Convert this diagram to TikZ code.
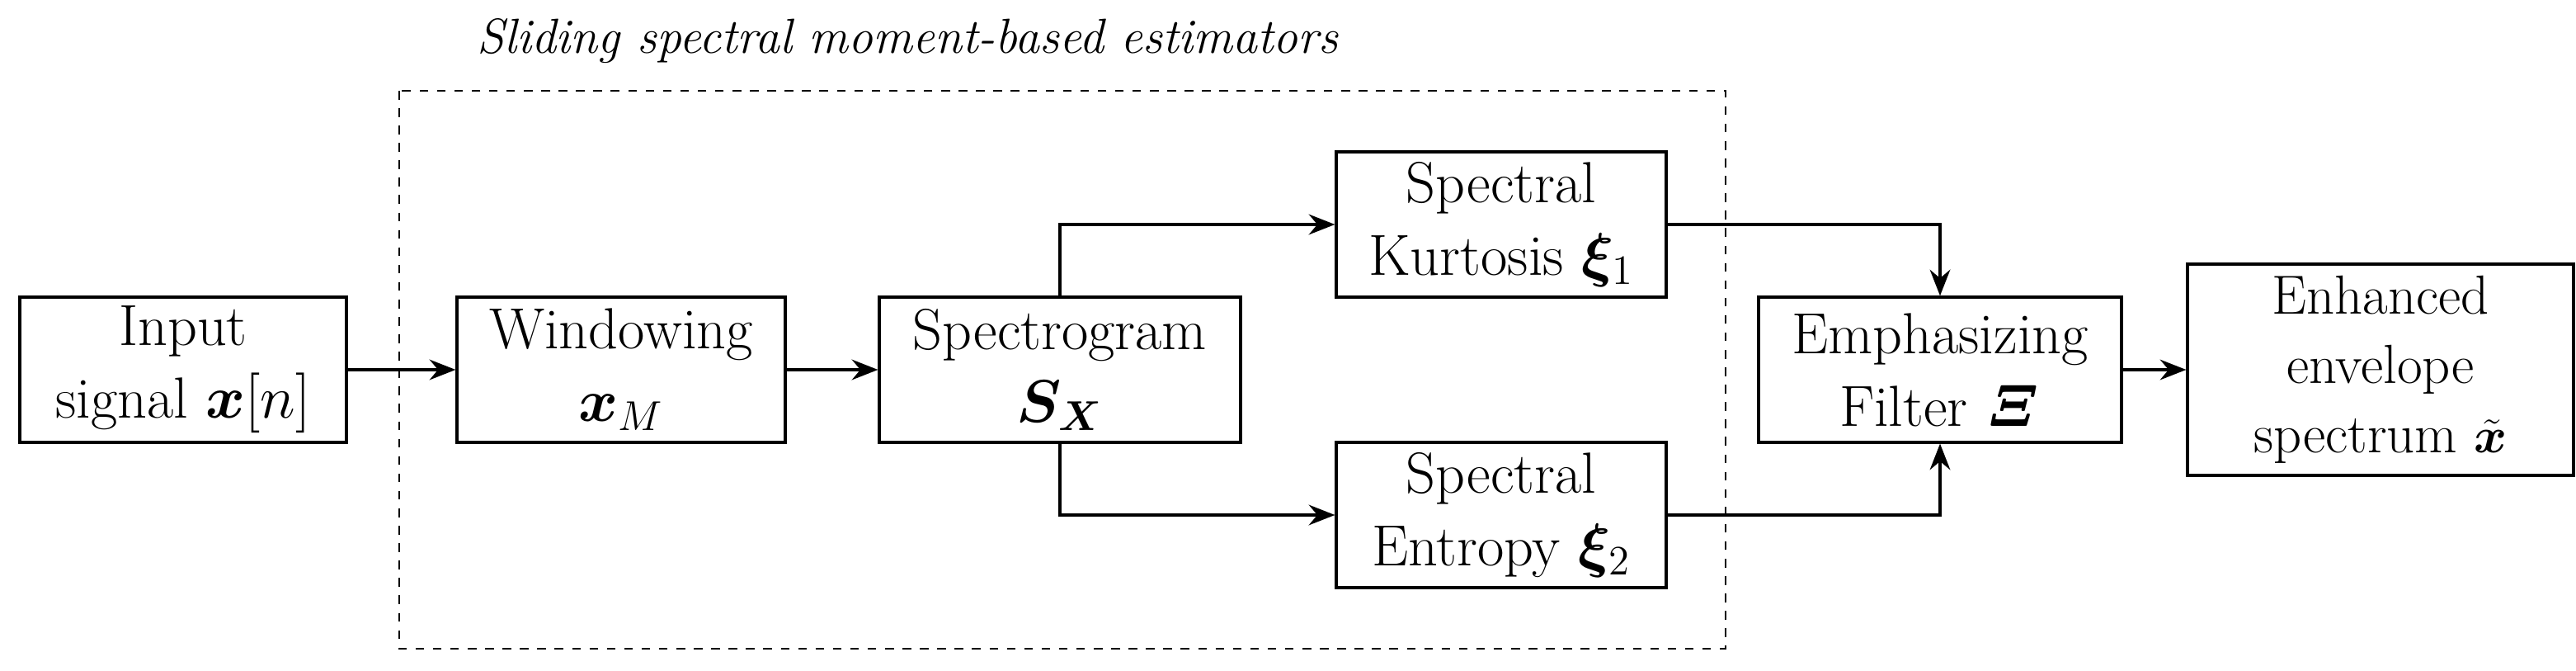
\documentclass[tikz,border=0pt]{standalone}
\usepackage{amsmath,bm}
\usetikzlibrary{arrows.meta,calc}
\begin{document}
\begin{tikzpicture}[x=0.02cm,y=-0.02cm,
  blk/.style={draw,line width=0.9pt,align=center,font=\fontsize{20}{25}\selectfont,inner sep=0pt},
  conn/.style={line width=1.1pt,-{Stealth[length=9pt,width=7pt]}}]
\useasboundingbox (0,0) rectangle (1561.5,406.5);
\draw[dashed,line width=0.8pt] (242,55) rectangle (1046,393);
\node[font=\fontsize{17}{20}\selectfont\itshape,anchor=west] (title) at (283,25) {Sliding spectral moment-based estimators};
\node[blk,minimum width=198*0.02cm,minimum height=88*0.02cm] (in) at (111,224) {Input\\signal $\bm{x}[n]$};
\node[blk,minimum width=199*0.02cm,minimum height=88*0.02cm] (win) at (376.5,224) {Windowing\\$\bm{x}_M$};
\node[blk,minimum width=219*0.02cm,minimum height=88*0.02cm] (spec) at (642.5,224) {Spectrogram\\$\bm{S_X}$};
\node[blk,minimum width=200*0.02cm,minimum height=88*0.02cm] (kur) at (910,136) {Spectral\\Kurtosis $\bm{\xi}_1$};
\node[blk,minimum width=200*0.02cm,minimum height=88*0.02cm] (ent) at (910,312) {Spectral\\Entropy $\bm{\xi}_2$};
\node[blk,minimum width=220*0.02cm,minimum height=88*0.02cm] (emp) at (1176,224) {Emphasizing\\Filter $\bm{\mathit{\Xi}}$};
\node[blk,font=\fontsize{19}{24}\selectfont,minimum width=234*0.02cm,minimum height=128*0.02cm] (enh) at (1443,224) {Enhanced\\envelope\\spectrum $\tilde{\bm{x}}$};
\draw[conn] (in) -- (win);
\draw[conn] (win) -- (spec);
\draw[conn] (spec.north) |- (kur.west);
\draw[conn] (spec.south) |- (ent.west);
\draw[conn] (kur.east) -| (emp.north);
\draw[conn] (ent.east) -| (emp.south);
\draw[conn] (emp) -- (enh);
\end{tikzpicture}
\end{document}
